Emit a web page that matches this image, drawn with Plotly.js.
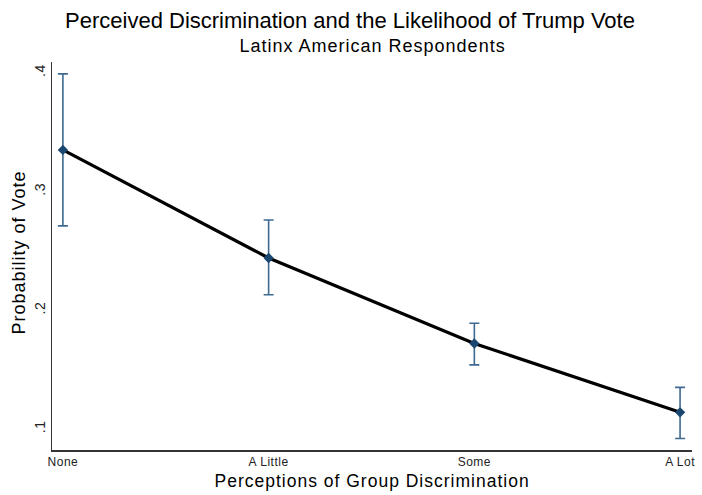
<!DOCTYPE html>
<html><head><meta charset="utf-8">
<script src="https://cdn.plot.ly/plotly-3.0.1.min.js"></script>
<style>
html,body{margin:0;padding:0;background:#fff}
#chart .annotation-text{letter-spacing:1px}
#chart .xtick text{letter-spacing:0.5px}
#chart .ytick text{letter-spacing:0.5px}
</style>
</head><body>
<div id="chart" style="width:702px;height:495px"></div>
<script>
const categories = ["None", "A Little", "Some", "A Lot"];
const probability = [0.335, 0.244, 0.172, 0.114];
const ciUpper = [0.399, 0.276, 0.189, 0.135];
const ciLower = [0.271, 0.213, 0.154, 0.092];
const yTickVals = [0.1, 0.2, 0.3, 0.4];
const yTickText = [".1", ".2", ".3", ".4"];

const xIdx = categories.map((c, i) => i);
const errPlus = ciUpper.map((u, i) => u - probability[i]);
const errMinus = probability.map((p, i) => p - ciLower[i]);

const font = "Liberation Sans, Arial, sans-serif";

const data = [
  {
    x: xIdx, y: probability, type: "scatter", mode: "lines",
    line: {color: "#000000", width: 3.2}, hoverinfo: "skip"
  },
  {
    x: xIdx, y: probability, type: "scatter", mode: "markers",
    marker: {color: "#1a476f", size: 8, symbol: "diamond"},
    error_y: {type: "data", symmetric: false, array: errPlus, arrayminus: errMinus,
      color: "#3e6a91", thickness: 1.6, width: 5}
  }
];

const layout = {
  width: 702, height: 495,
  margin: {l: 52, r: 10, t: 62, b: 45},
  paper_bgcolor: "#ffffff", plot_bgcolor: "#ffffff",
  showlegend: false,
  font: {family: font, color: "#000"},
  title: {
    text: "Perceived Discrimination and the Likelihood of Trump Vote",
    x: 350/702, xanchor: "center", xref: "container",
    y: 1 - 20/495, yanchor: "middle", yref: "container",
    font: {size: 22, family: font, color: "#000"}
  },
  xaxis: {
    range: [-0.053, 3.058], tickvals: xIdx, ticktext: categories,
    showgrid: false, zeroline: false, showline: true, linecolor: "#333", linewidth: 1.5,
    ticks: "", tickfont: {size: 12, color: "#222", family: font}
  },
  yaxis: {
    range: [0.0823, 0.409], tickvals: yTickVals, ticktext: yTickText, tickangle: -90,
    showgrid: false, zeroline: false, showline: true, linecolor: "#333", linewidth: 1.5,
    ticks: "", tickfont: {size: 14, color: "#222", family: font}
  },
  annotations: [
    {text: "Latinx American Respondents", xref: "paper", yref: "paper",
     x: 0.5, y: 1, xanchor: "center", yanchor: "middle", showarrow: false,
     yshift: 62 - 46, font: {size: 18, family: font, color: "#000"}},
    {text: "Perceptions of Group Discrimination", xref: "paper", yref: "paper",
     x: 0.5, y: 0, xanchor: "center", yanchor: "middle", showarrow: false,
     yshift: -(481 - 450), font: {size: 17.5, family: font, color: "#000"}},
    {text: "Probability of Vote", xref: "paper", yref: "paper", textangle: -90,
     x: 0, y: 0.5, xanchor: "center", yanchor: "middle", showarrow: false,
     xshift: -(52 - 19), yshift: 256 - 253, font: {size: 18, family: font, color: "#000"}}
  ]
};

Plotly.newPlot("chart", data, layout, {displayModeBar: false, staticPlot: true});
</script>
</body></html>
